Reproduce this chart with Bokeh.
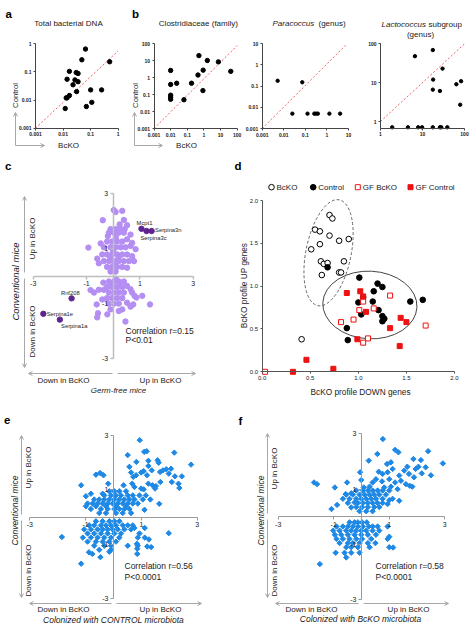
import math
from bokeh.plotting import figure
from bokeh.layouts import column, row
from bokeh.models import Range1d, LinearAxis, LogAxis, FixedTicker, Label, Arrow, OpenHead
from bokeh.embed import file_html
from bokeh.resources import INLINE

FONT = "Liberation Sans"

# ======================= DATA =======================
# panel a : Total bacterial DNA (x = BcKO, y = Control)
a_ticks = [0.001, 0.01, 0.1, 1]
a_tick_labels = ["0.001", "0.01", "0.1", "1"]
a_bcko = [0.065, 0.048, 0.49, 0.017, 0.030, 0.035, 0.014, 0.027, 0.035, 0.023,
          0.031, 0.10, 0.25, 0.017, 0.014, 0.013, 0.012, 0.07, 0.11]
a_control = [0.65, 0.27, 0.23, 0.105, 0.095, 0.088, 0.055, 0.052, 0.045, 0.035,
             0.020, 0.023, 0.023, 0.0145, 0.012, 0.012, 0.005, 0.0059, 0.0083]
a_diag_x = [0.001, 1]
a_diag_y = [0.001, 0.56]

# panel b1 : Clostridiaceae (family)
b1_ticks = [0.001, 0.01, 0.1, 1, 10, 100]
b1_tick_labels = ["0.001", "0.01", "0.1", "1", "10", "100"]
b1_bcko = [0.5, 1.6, 7.4, 41, 0.9, 0.44, 0.01, 0.01, 0.023, 0.18, 0.87, 0.01, 0.01, 0.01, 0.063]
b1_control = [19.4, 10, 8.3, 2.3, 2.7, 1.4, 2.6, 0.39, 0.46, 0.46, 0.17, 0.091, 0.069, 0.052, 0.049]
b1_diag_x = [0.001, 100]
b1_diag_y = [0.001, 76]

# panel b2 : Paracoccus (genus)
b2_ticks = [0.001, 0.01, 0.1, 1, 10]
b2_tick_labels = ["0.001", "0.01", "0.1", "1", "10"]
b2_bcko = [0.0052, 0.072, 0.025, 0.126, 0.26, 0.31, 0.38, 1.3, 4.1]
b2_control = [0.176, 0.15, 0.005, 0.005, 0.005, 0.005, 0.005, 0.005, 0.005]
b2_diag_x = [0.001, 8]
b2_diag_y = [0.001, 9]

# panel b3 : Lactococcus subgroup (genus)
b3_ticks = [1, 10, 100]
b3_tick_labels = ["1", "10", "100"]
b3_bcko = [6.6, 17.6, 30, 17.9, 17.6, 26, 64, 83, 79, 1.9, 4.5, 7.9, 9.8, 17.6, 26, 28, 39]
b3_control = [48, 69, 23, 12, 6.6, 6.1, 9.1, 10.9, 2.7, 0.71, 0.71, 0.71, 0.71, 0.71, 0.71, 0.71, 0.71]
b3_diag_x = [1, 100]
b3_diag_y = [1, 100]

# panel c : germ-free vs conventional
cross_ticks = [-3, -1, 1, 3]
cross_tick_labels = ["-3", "-1", "1", "3"]
c_points = [
    (0.02, 2.39), (0.09, 2.32), (0.34, 2.36), (-0.39, 2.02), (0.40, 2.03), (0.24, 1.87), (0.52, 1.84),
    (-0.10, 1.70), (0.09, 1.70), (0.28, 1.70), (0.43, 1.70),
    (-0.16, 1.57), (0.03, 1.57), (0.21, 1.57), (0.40, 1.57), (0.65, 1.50), (-0.20, 1.45), (0.10, 1.40),
    (-0.93, 1.03), (-0.47, 1.18),
    (-0.23, 1.25), (-0.04, 1.25), (0.15, 1.25), (0.34, 1.25), (0.52, 1.33), (0.71, 1.20),
    (-0.35, 1.04), (-0.10, 1.04), (0.09, 1.04), (0.28, 1.04), (0.46, 1.04), (0.65, 1.09), (0.84, 0.97),
    (0.00, 0.90),
    (-0.41, 0.78), (-0.23, 0.78), (-0.04, 0.78), (0.15, 0.78), (0.34, 0.78), (0.52, 0.78), (0.71, 0.72), (0.78, 0.54),
    (-0.60, 0.63), (-0.10, 0.65), (0.20, 0.65),
    (-0.35, 0.54), (-0.16, 0.54), (0.03, 0.54), (0.21, 0.54), (0.40, 0.54), (0.59, 0.54),
    (-0.54, 0.46), (0.05, 0.45),
    (-0.23, 0.33), (-0.04, 0.33), (0.15, 0.33), (0.34, 0.33), (0.52, 0.30),
    (-0.10, 0.16), (0.09, 0.16),
    (-0.37, -0.24), (-0.16, -0.20), (0.03, -0.20), (0.21, -0.20), (0.40, -0.20), (0.10, -0.10),
    (-0.72, -0.60), (-0.85, -0.51), (-0.54, -0.50), (-0.35, -0.50), (-0.05, -0.30), (0.25, -0.30),
    (-0.23, -0.40), (-0.04, -0.40), (0.15, -0.40), (0.34, -0.40), (0.52, -0.36), (0.65, -0.48),
    (-0.16, -0.60), (0.03, -0.60), (0.21, -0.60), (0.40, -0.60), (0.71, -0.60), (0.80, -0.72), (0.87, -0.78), (1.09, -0.72),
    (-0.62, -1.03), (-0.41, -0.85),
    (-0.23, -0.80), (-0.04, -0.80), (0.15, -0.80), (0.34, -0.80),
    (-0.16, -1.00), (0.03, -1.00), (0.21, -1.00),
    (0.52, -0.97), (0.65, -1.11), (0.75, -1.03), (1.38, -1.03),
    (-0.22, -1.39), (-0.57, -1.35), (-0.60, -1.50), (0.21, -1.27), (0.34, -1.21), (0.46, -1.65), (-0.10, -1.21),
]
gene_names = ["Mcpt1", "Serpina3c", "Serpina3n", "Rnf208", "Serpina1e", "Serpina1a"]
gene_x = [1.06, 1.25, 1.44, -1.56, -2.62, -2.00]
gene_y = [1.71, 1.63, 1.63, -0.81, -1.37, -1.58]

# panel d : BcKO profile scores
d_ticks = [0, 0.5, 1, 1.5, 2]
d_tick_labels = ["0.0", "0.5", "1.0", "1.5", "2.0"]
d_groups = ["BcKO", "Control", "GF BcKO", "GF Control"]
d_bcko_x = [0.70, 0.73, 0.55, 0.60, 0.70, 0.80, 0.90, 0.60, 0.51, 0.61, 0.64, 0.68, 0.85, 0.62, 0.80, 0.82, 0.41]
d_bcko_y = [1.83, 1.79, 1.66, 1.64, 1.59, 1.53, 1.55, 1.49, 1.43, 1.29, 1.26, 1.27, 1.29, 1.13, 1.16, 1.16, 0.38]
d_ctrl_x = [0.68, 1.01, 1.20, 1.25, 1.16, 1.15, 1.00, 1.05, 1.21, 1.25, 1.27, 1.25, 1.03, 1.54, 1.67, 0.88, 0.89]
d_ctrl_y = [1.22, 1.10, 1.03, 0.99, 0.94, 0.82, 0.81, 0.87, 0.72, 0.65, 0.62, 0.59, 0.67, 0.82, 0.84, 0.51, 0.37]
d_gfko_x = [1.05, 1.01, 1.16, 1.33, 0.95, 0.82, 1.70, 1.10, 1.05, 0.03]
d_gfko_y = [0.82, 0.72, 0.74, 0.89, 0.61, 0.58, 0.54, 0.39, 0.34, 0.00]
d_gfctrl_x = [0.88, 1.02, 1.05, 1.08, 1.44, 1.50, 1.33, 0.99, 1.43, 0.46, 0.74, 0.32]
d_gfctrl_y = [0.92, 0.94, 0.88, 0.70, 0.63, 0.58, 0.51, 0.38, 0.30, 0.14, 0.035, 0.00]
d_ell_x = [0.69, 1.12]
d_ell_y = [1.39, 0.78]
d_ell_w = [0.47, 0.98]
d_ell_h = [1.26, 0.79]
d_ell_angle = [-0.2, -0.05]

# panel e : colonized with CONTROL microbiota
e_points = [
    (0.94, 2.83), (1.10, 2.40), (1.19, 2.42), (0.51, 2.28), (2.18, 2.37), (2.78, 1.93), (0.82, 2.03),
    (1.25, 2.07), (1.25, 1.88), (1.58, 2.09), (1.62, 2.00), (0.57, 1.85), (0.99, 1.64), (1.08, 1.69),
    (1.37, 1.72), (1.67, 1.66), (1.77, 1.72), (1.89, 1.76), (2.06, 1.78), (1.98, 1.60), (2.20, 1.50), (2.45, 1.50),
    (-0.63, 1.56), (-0.48, 1.62), (-0.36, 1.54), (0.63, 1.64), (0.71, 1.48), (0.81, 1.54), (1.20, 1.54),
    (2.09, 1.29), (2.33, 1.23), (2.36, 1.07), (1.68, 1.29), (-1.16, 1.17), (-0.19, 1.23), (0.36, 1.17),
    (0.67, 1.23), (0.75, 1.11), (0.99, 1.05), (1.08, 1.02), (1.25, 1.23), (1.40, 1.17), (1.49, 1.05), (1.52, 1.14),
    (-0.99, 0.77), (-0.81, 0.86), (-0.39, 0.86), (1.64, 0.49), (1.11, 0.27),
    (-0.15, 0.95), (0.03, 0.95), (0.21, 0.95), (0.45, 0.95),
    (-0.33, 0.80), (-0.09, 0.80), (0.09, 0.80), (0.27, 0.80), (0.51, 0.80), (0.69, 0.80), (0.93, 0.80), (1.16, 0.80),
    (-0.69, 0.65), (-0.51, 0.65), (-0.33, 0.65), (-0.15, 0.65), (0.03, 0.65), (0.21, 0.65), (0.39, 0.65),
    (0.57, 0.65), (0.75, 0.65), (1.05, 0.65), (1.32, 0.65),
    (-0.93, 0.50), (-0.75, 0.50), (-0.57, 0.50), (-0.39, 0.50), (-0.21, 0.50), (-0.03, 0.50), (0.15, 0.50),
    (0.33, 0.50), (0.51, 0.50), (0.69, 0.50), (0.87, 0.50),
    (-0.99, 0.40), (-0.63, 0.40), (-0.27, 0.40), (0.09, 0.40), (0.45, 0.40),
    (-0.81, 0.30), (-0.45, 0.30), (-0.21, 0.30), (0.03, 0.30), (0.21, 0.30), (0.39, 0.30), (0.57, 0.30),
    (-0.51, 0.15), (-0.27, 0.15), (0.09, 0.15), (0.33, 0.15), (0.63, 0.15),
    (-0.63, -0.15), (-0.39, -0.15), (-0.15, -0.15), (0.03, -0.15), (0.21, -0.15),
    (-0.87, -0.30), (-0.69, -0.30), (-0.45, -0.30), (-0.27, -0.30), (-0.09, -0.30), (0.09, -0.30),
    (0.33, -0.30), (0.51, -0.30), (0.69, -0.30),
    (-1.05, -0.45), (-0.81, -0.45), (-0.57, -0.45), (-0.39, -0.45), (-0.21, -0.45), (-0.03, -0.45),
    (0.15, -0.45), (0.39, -0.45), (0.63, -0.45), (1.12, -0.40), (0.75, -0.40),
    (-0.93, -0.60), (-0.69, -0.60), (-0.45, -0.60), (-0.21, -0.60), (0.03, -0.60), (0.27, -0.60), (0.93, -0.60), (1.98, -0.59),
    (-1.10, -0.75), (-0.81, -0.75), (-0.57, -0.75), (-0.33, -0.75), (-0.09, -0.75), (0.21, -0.75), (0.87, -0.75),
    (1.12, -0.75), (-1.85, -0.73),
    (-0.93, -0.90), (-0.63, -0.90), (-0.39, -0.90), (-0.15, -0.90), (0.09, -0.90), (1.27, -0.82), (0.84, -0.98),
    (-0.69, -1.05), (-0.33, -1.05), (-0.09, -1.05), (0.51, -1.05), (0.87, -1.05), (1.21, -1.08), (1.35, -1.10),
    (-0.51, -1.20), (-0.09, -1.20), (0.85, -1.16),
    (-0.88, -1.29), (-0.76, -1.35), (-0.47, -1.47), (-0.15, -1.27), (0.85, -1.35), (-1.16, -1.71),
]

# panel f : colonized with BcKO microbiota
f_points = [
    (0.77, 2.81), (2.40, 2.37), (2.93, 1.93), (0.57, 2.27), (1.21, 2.42), (1.33, 2.33),
    (1.87, 2.09), (2.14, 2.05), (2.31, 1.79), (2.50, 1.50), (0.26, 2.03), (0.92, 1.91), (1.06, 1.97),
    (1.65, 1.81), (1.54, 1.67), (1.95, 1.73), (2.05, 1.81), (-0.05, 1.61), (0.62, 1.63), (0.76, 1.55),
    (0.94, 1.61), (1.12, 1.73), (1.36, 1.49), (1.71, 1.55), (1.89, 1.43), (2.17, 1.57),
    (-1.71, 1.24), (-1.60, 1.18), (-0.96, 1.06), (-0.52, 1.24), (-0.01, 1.33),
    (0.40, 1.24), (0.52, 1.36), (0.74, 1.28), (1.00, 1.36), (1.21, 1.24), (1.42, 1.30), (1.60, 1.18),
    (1.74, 1.12), (1.83, 1.09), (0.82, 1.06), (1.06, 1.09), (1.30, 1.00), (0.08, 1.06), (0.29, 1.09),
    (-0.57, 0.82), (-0.37, 0.85), (-0.88, 0.43), (-1.08, 0.28), (-0.25, 0.52), (-0.37, 0.34),
    (1.36, 0.58), (0.94, 0.46), (1.00, 0.60),
    (-0.19, 0.95), (0.05, 0.95), (0.23, 0.95), (0.40, 0.95), (0.58, 0.95), (0.76, 0.95), (1.00, 0.95),
    (-0.55, 0.80), (-0.31, 0.80), (-0.07, 0.80), (0.11, 0.80), (0.29, 0.80), (0.46, 0.80), (0.64, 0.80), (0.88, 0.80),
    (-0.67, 0.65), (-0.43, 0.65), (-0.19, 0.65), (-0.01, 0.65), (0.17, 0.65), (0.35, 0.65), (0.52, 0.65),
    (0.76, 0.65), (1.12, 0.65),
    (-0.49, 0.50), (-0.13, 0.50), (0.05, 0.50), (0.23, 0.50), (0.40, 0.50), (0.58, 0.50), (0.76, 0.50),
    (-0.19, 0.35), (0.02, 0.35), (0.23, 0.35), (0.46, 0.35), (0.64, 0.35),
    (-0.07, 0.20), (0.17, 0.20), (0.40, 0.20),
    (-0.43, -0.20), (-0.25, -0.20), (-0.13, -0.20), (0.02, -0.20), (0.19, -0.20),
    (-0.90, -0.35), (-0.67, -0.35), (-0.49, -0.35), (-0.31, -0.35), (-0.13, -0.35), (0.05, -0.35),
    (0.26, -0.35), (0.40, -0.35), (0.58, -0.35), (0.94, -0.35),
    (-1.02, -0.50), (-0.79, -0.50), (-0.55, -0.50), (-0.37, -0.50), (-0.19, -0.50), (-0.01, -0.50),
    (0.17, -0.50), (0.40, -0.50), (0.64, -0.50),
    (-0.96, -0.65), (-0.73, -0.65), (-0.49, -0.65), (-0.25, -0.65), (-0.01, -0.65), (0.23, -0.65), (0.52, -0.65),
    (-0.90, -0.80), (-0.67, -0.80), (-0.43, -0.80), (-0.19, -0.80), (0.02, -0.80), (0.35, -0.80),
    (0.94, -0.80), (1.00, -0.72),
    (-0.79, -0.95), (-0.49, -0.95), (-0.31, -0.95), (-0.07, -0.95), (0.23, -0.95), (0.50, -0.95),
    (-0.55, -1.10), (-0.37, -1.10), (-0.13, -1.10), (0.29, -1.10), (1.00, -1.10), (1.14, -1.11),
    (-0.93, -1.30), (-0.61, -1.30), (-0.37, -1.30), (-0.07, -1.30), (-0.55, -1.47), (-1.50, -1.71),
]

# ======================= STYLE =======================
BLACK = "#000000"
DIAG = "#f0606a"
PURPLE_L = "#b48ef2"
PURPLE_D = "#5e2590"
BLUE = "#1e88e5"
RED = "#ee1111"
ARROW = "#a8a8a8"
TXT = "#1a1a1a"
ROT = math.pi / 2


def geo(CL, CT, CR, CB, FL, FT, FR, FB, xr, yr, logx=False, logy=False):
    """canvas box (CL..CR, CT..CB) and the pixel box (FL..FR, FT..FB) that xr / yr span"""
    return dict(CL=CL, CT=CT, CR=CR, CB=CB, FL=FL, FT=FT, FR=FR, FB=FB,
                xr=xr, yr=yr, logx=logx, logy=logy)


def _map(a, b, t, log):
    if log:
        la, lb = math.log10(a), math.log10(b)
        return 10 ** (la + t * (lb - la))
    return a + t * (b - a)


def X(g, px):
    return _map(g["xr"][0], g["xr"][1], (px - g["FL"]) / (g["FR"] - g["FL"]), g["logx"])


def Y(g, py):
    return _map(g["yr"][0], g["yr"][1], (g["FB"] - py) / (g["FB"] - g["FT"]), g["logy"])


def make_fig(g):
    p = figure(width=g["CR"] - g["CL"], height=g["CB"] - g["CT"],
               x_range=Range1d(X(g, g["CL"]), X(g, g["CR"])),
               y_range=Range1d(Y(g, g["CB"]), Y(g, g["CT"])),
               x_axis_type="log" if g["logx"] else "linear",
               y_axis_type="log" if g["logy"] else "linear",
               x_axis_location=None, y_axis_location=None, title=None,
               toolbar_location=None, output_backend="svg", min_border=0)
    p.outline_line_color = None
    p.xgrid.visible = False
    p.ygrid.visible = False
    p.background_fill_color = "white"
    p.border_fill_color = "white"
    return p


def style_axis(ax, ticks, labels, color, lw, fs, bold=False, tick_out=2):
    ax.ticker = FixedTicker(ticks=ticks, minor_ticks=[])
    ax.major_label_overrides = {float(t): l for t, l in zip(ticks, labels)}
    ax.axis_line_color = color
    ax.axis_line_width = lw
    ax.major_tick_line_color = color
    ax.major_tick_line_width = lw
    ax.major_tick_out = tick_out
    ax.major_tick_in = 0
    ax.minor_tick_line_color = None
    ax.major_label_text_font = FONT
    ax.major_label_text_font_size = fs
    ax.major_label_text_color = "#222222"
    ax.major_label_text_font_style = "bold" if bold else "normal"
    ax.major_label_standoff = 2


def add_axes(p, g, xt, xl, yt, yl, color, lw, fs, bold=False, tick_out=2, origin=None, log=False):
    ox = g["xr"][0] if origin is None else origin[0]
    oy = g["yr"][0] if origin is None else origin[1]
    Ax = LogAxis if log else LinearAxis
    xa = Ax(fixed_location=oy, bounds=g.get("xb", g["xr"]))
    ya = Ax(fixed_location=ox, bounds=g.get("yb", g["yr"]))
    style_axis(xa, xt, xl, color, lw, fs, bold, tick_out)
    style_axis(ya, yt, yl, color, lw, fs, bold, tick_out)
    p.add_layout(xa, "below")
    p.add_layout(ya, "left")


def lab(p, g, text, x, y, size, align="center", baseline="middle", angle=0.0,
        style="normal", color=TXT):
    p.add_layout(Label(x=X(g, x), y=Y(g, y), text=text, text_font=FONT,
                       text_font_size=f"{size}px", text_align=align,
                       text_baseline=baseline, angle=angle, text_font_style=style,
                       text_color=color))


def arr(p, g, x0, y0, x1, y1):
    p.add_layout(Arrow(x_start=X(g, x0), y_start=Y(g, y0), x_end=X(g, x1), y_end=Y(g, y1),
                       end=OpenHead(size=4, line_color=ARROW, line_width=1),
                       line_color=ARROW, line_width=1))


def letter(p, g, ch, x, y):
    lab(p, g, ch, x, y, 11.5, align="left", baseline="alphabetic", style="bold", color="#000")


# ======================= ROW 1 =======================
g_a = geo(0, 0, 128, 152, 35, 43.3, 117.7, 127.7, (0.001, 1), (0.001, 1), True, True)
g_b1 = geo(128, 0, 243, 152, 153.5, 43, 236.7, 128, (0.001, 100), (0.001, 100), True, True)
g_b2 = geo(243, 0, 362, 152, 261.7, 43, 348, 128, (0.001, 10), (0.001, 10), True, True)
g_b3 = geo(362, 0, 474, 152, 380, 43.3, 464, 121, (1, 100), (1, 100), True, True)
g_b3["yb"] = (Y(g_b3, 127.7), 100)


def log_panel(g, xs, ys, dx, dy, ticks, labels, size, origin=None):
    p = make_fig(g)
    add_axes(p, g, ticks, labels, ticks if origin is None else b3_ticks,
             labels if origin is None else b3_tick_labels,
             "#444444", 1, "5px", bold=True, origin=origin, log=True)
    p.line(dx, dy, line_color=DIAG, line_dash="2 2", line_width=1)
    p.scatter(xs, ys, size=size, color=BLACK)
    return p


fa = log_panel(g_a, a_bcko, a_control, a_diag_x, a_diag_y, a_ticks, a_tick_labels, 4.4)
letter(fa, g_a, "a", 5, 13)
lab(fa, g_a, "Total bacterial DNA", 68, 23, 8)
lab(fa, g_a, "Control", 15, 95, 7.7, angle=ROT)
arr(fa, g_a, 15, 145, 15, 112)
arr(fa, g_a, 15, 145, 44, 145)
lab(fa, g_a, "BcKO", 68, 145, 8)

fb1 = log_panel(g_b1, b1_bcko, b1_control, b1_diag_x, b1_diag_y, b1_ticks, b1_tick_labels, 4.4)
letter(fb1, g_b1, "b", 131.5, 13)
lab(fb1, g_b1, "Clostridiaceae  (family)", 199, 23, 8)
lab(fb1, g_b1, "Control", 135, 95, 7.7, angle=ROT)
arr(fb1, g_b1, 134, 145, 134, 112)
arr(fb1, g_b1, 134, 145, 162, 145)
lab(fb1, g_b1, "BcKO", 186, 145, 8)

fb2 = log_panel(g_b2, b2_bcko, b2_control, b2_diag_x, b2_diag_y, b2_ticks, b2_tick_labels, 3.4)
lab(fb2, g_b2, "Paracoccus", 272, 23, 8, align="left", style="italic")
lab(fb2, g_b2, "(genus)", 318, 23, 8, align="left")

fb3 = log_panel(g_b3, b3_bcko, b3_control, b3_diag_x, b3_diag_y, b3_ticks, b3_tick_labels, 3.4,
                origin=(1, g_b3["yb"][0]))
lab(fb3, g_b3, "Lactococcus", 381, 24, 8, align="left", style="italic")
lab(fb3, g_b3, "subgroup", 428, 24, 8, align="left")
lab(fb3, g_b3, "(genus)", 420, 33.5, 8)

# ======================= ROW 2 =======================
g_c = geo(0, 152, 230, 400, 32.7, 192.7, 192.7, 358.3, (-3, 3), (-3, 3))
fc = make_fig(g_c)
add_axes(fc, g_c, cross_ticks, cross_tick_labels, cross_ticks, cross_tick_labels,
         "#bdbdbd", 1.5, "7px", tick_out=3, origin=(0, 0))
fc.scatter([q[0] for q in c_points], [q[1] for q in c_points], size=5.4, color=PURPLE_L)
fc.scatter(gene_x, gene_y, size=5.4, color=PURPLE_D)
gene_offsets = {"Mcpt1": (3, 6, "center"), "Serpina3c": (7, -7.3, "center"),
                "Serpina3n": (3.5, 1.5, "left"), "Rnf208": (-1.3, 5, "center"),
                "Serpina1e": (3.3, 0, "left"), "Serpina1a": (14.4, -6.3, "center")}
for name, gx, gy in zip(gene_names, gene_x, gene_y):
    ox, oy, al = gene_offsets[name]
    fc.add_layout(Label(x=gx, y=gy, x_offset=ox, y_offset=oy, text=name, text_font=FONT,
                        text_font_size="5.8px", text_align=al, text_baseline="middle",
                        text_color=TXT))
letter(fc, g_c, "c", 4.5, 165.5)
arr(fc, g_c, 24, 272, 24, 196)
arr(fc, g_c, 24, 278, 24, 367)
arr(fc, g_c, 112, 373, 28, 373)
arr(fc, g_c, 117, 373, 195, 373)
lab(fc, g_c, "Conventional mice", 15, 281, 9.5, angle=ROT, style="italic")
lab(fc, g_c, "Up in BcKO", 31.5, 238, 8, angle=ROT)
lab(fc, g_c, "Down in BcKO", 31.5, 331, 8, angle=ROT)
lab(fc, g_c, "Down in BcKO", 63, 380, 8)
lab(fc, g_c, "Up in BcKO", 160, 380, 8)
lab(fc, g_c, "Germ-free mice", 118, 390, 8, style="italic")
lab(fc, g_c, "Correlation r=0.15", 125, 330, 8.5, align="left")
lab(fc, g_c, "P<0.01", 125, 339.5, 8.5, align="left")

g_d = geo(230, 152, 474, 400, 261.7, 200, 454, 371.3, (0, 2), (0, 2))
fd = make_fig(g_d)
add_axes(fd, g_d, d_ticks, d_tick_labels, d_ticks, d_tick_labels, "#555555", 1, "6px",
         origin=(0, 0))
fd.ellipse(d_ell_x[:1], d_ell_y[:1], width=d_ell_w[:1], height=d_ell_h[:1], angle=d_ell_angle[:1],
           fill_color=None, line_color="#666666", line_dash="3 2", line_width=1)
fd.ellipse(d_ell_x[1:], d_ell_y[1:], width=d_ell_w[1:], height=d_ell_h[1:], angle=d_ell_angle[1:],
           fill_color=None, line_color="#444444", line_width=1)
d_styles = [dict(marker="circle", size=5.6, fill_color="white", line_color=BLACK, line_width=1),
            dict(marker="circle", size=5.6, fill_color=BLACK, line_color=BLACK),
            dict(marker="square", size=5, fill_color="white", line_color=RED, line_width=1),
            dict(marker="square", size=5, fill_color=RED, line_color=RED)]
d_series = [(d_bcko_x, d_bcko_y), (d_ctrl_x, d_ctrl_y), (d_gfko_x, d_gfko_y), (d_gfctrl_x, d_gfctrl_y)]
for (xs, ys), st in zip(d_series, d_styles):
    fd.scatter(xs, ys, **st)
# legend row above the panel
legend_sym_px = [271, 312.7, 357.3, 410]
legend_y_px = 186.7
for name, sx, st in zip(d_groups, legend_sym_px, d_styles):
    fd.scatter([X(g_d, sx)], [Y(g_d, legend_y_px)], **st)
    lab(fd, g_d, name, sx + 5, legend_y_px, 8, align="left")
letter(fd, g_d, "d", 234, 165.5)
lab(fd, g_d, "BcKO profile UP genes", 243.5, 285, 8.3, angle=ROT)
lab(fd, g_d, "BcKO profile DOWN genes", 360, 391, 8.3)

# ======================= ROW 3 =======================
g_e = geo(0, 400, 234, 627, 29.3, 435, 196.7, 598.3, (-3, 3), (-3, 3))
g_f = geo(234, 400, 474, 627, 277.7, 433.3, 444.3, 599.3, (-3, 3), (-3, 3))


def cross_panel(g, pts):
    p = make_fig(g)
    add_axes(p, g, cross_ticks, cross_tick_labels, cross_ticks, cross_tick_labels,
             "#9a9a9a", 1, "7px", tick_out=3, origin=(0, 0))
    p.scatter([q[0] for q in pts], [q[1] for q in pts], marker="square", angle=math.pi / 4,
              size=3.8, color=BLUE)
    return p


fe = cross_panel(g_e, e_points)
letter(fe, g_e, "e", 3.5, 419.5)
arr(fe, g_e, 21, 514, 21, 435)
arr(fe, g_e, 21, 520, 21, 597)
arr(fe, g_e, 111, 603, 29, 603)
arr(fe, g_e, 116, 603, 201, 603)
lab(fe, g_e, "Conventional mice", 14, 510, 8.5, angle=ROT, style="italic")
lab(fe, g_e, "Up in BcKO", 28, 467, 8, angle=ROT)
lab(fe, g_e, "Down in BcKO", 28, 570, 8, angle=ROT)
lab(fe, g_e, "Down in BcKO", 63, 608.5, 8)
lab(fe, g_e, "Up in BcKO", 160, 608.5, 8)
lab(fe, g_e, "Colonized with CONTROL microbiota", 113, 619, 8.5, style="italic")
lab(fe, g_e, "Correlation r=0.56", 124, 565, 8.5, align="left")
lab(fe, g_e, "P<0.0001", 124, 576.5, 8.5, align="left")

ff = cross_panel(g_f, f_points)
letter(ff, g_f, "f", 238, 420.5)
arr(ff, g_f, 267, 513, 267, 433)
arr(ff, g_f, 267, 519, 267, 597)
arr(ff, g_f, 358, 603, 275, 603)
arr(ff, g_f, 363, 603, 448, 603)
lab(ff, g_f, "Conventional mice", 260, 510, 8.5, angle=ROT, style="italic")
lab(ff, g_f, "Up in BcKO", 274, 468, 8, angle=ROT)
lab(ff, g_f, "Down in BcKO", 274, 570, 8, angle=ROT)
lab(ff, g_f, "Down in BcKO", 311, 608.5, 8)
lab(ff, g_f, "Up in BcKO", 408, 608.5, 8)
lab(ff, g_f, "Colonized with BcKO microbiota", 360, 618.5, 8.5, style="italic")
lab(ff, g_f, "Correlation r=0.58", 375, 565, 8.5, align="left")
lab(ff, g_f, "P<0.0001", 375, 576.5, 8.5, align="left")

layout = column(row(fa, fb1, fb2, fb3, spacing=0),
                row(fc, fd, spacing=0),
                row(fe, ff, spacing=0), spacing=0)

open("out.html", "w").write(file_html(layout, INLINE))
